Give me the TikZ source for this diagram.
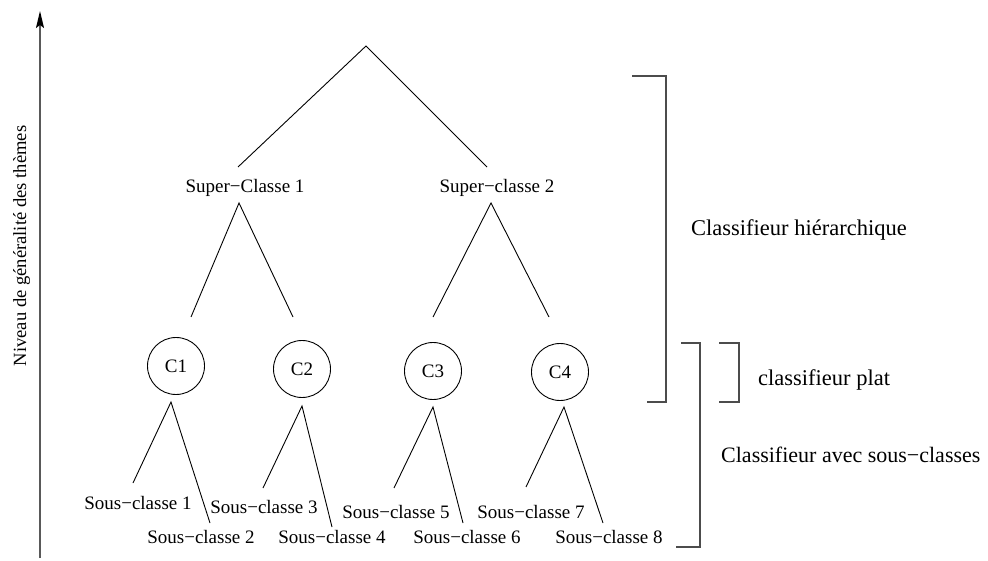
\documentclass[tikz,border=0pt]{standalone}
\usepackage{fontspec}
\setmainfont{Liberation Serif}
\usetikzlibrary{arrows.meta}
\begin{document}
\begin{tikzpicture}[x=1pt,y=-1pt,
  treeline/.style={line width=0.9pt,black},
  bracket/.style={line width=1.1pt,black!70},
  lab/.style={inner sep=0pt,anchor=base,font=\fontsize{19}{22}\selectfont},
  rlab/.style={inner sep=0pt,anchor=base west,font=\fontsize{22.5}{26}\selectfont},
  cls/.style={circle,draw,line width=0.9pt,minimum size=57pt,inner sep=0pt,font=\fontsize{19}{22}\selectfont}]
\useasboundingbox (0,0) rectangle (988,561);
% axis
\coordinate (ax0) at (40,558);
\coordinate (ax1) at (40,11);
\draw[line width=1.5pt,black!65,-{Stealth[length=17pt,width=8pt,inset=3pt,black]}] (ax0) -- (ax1);
\node[inner sep=0pt,rotate=90,anchor=base,font=\fontsize{18.6}{22}\selectfont] (axlab) at (26,246) {Niveau de généralité des thèmes};
% root
\coordinate (root) at (366,46);
\coordinate (r1) at (238,167);
\coordinate (r2) at (487,167);
\draw[treeline] (r1) -- (root) -- (r2);
% super classes
\node[lab] (sc1) at (245,193) {Super−Classe 1};
\node[lab] (sc2) at (497,193) {Super−classe 2};
\coordinate (a1) at (239,203);
\coordinate (a2) at (491,203);
\coordinate (b1) at (191,317);
\coordinate (b2) at (293,317);
\coordinate (b3) at (433,317);
\coordinate (b4) at (549,317);
\draw[treeline] (b1) -- (a1) -- (b2);
\draw[treeline] (b3) -- (a2) -- (b4);
% classes
\node[cls] (c1) at (176,366) {C1};
\node[cls] (c2) at (302,369) {C2};
\node[cls] (c3) at (433,371) {C3};
\node[cls] (c4) at (560,372) {C4};
% sub-trees
\coordinate (p1) at (171,402);
\coordinate (p2) at (302,406);
\coordinate (p3) at (433,407);
\coordinate (p4) at (564,407);
\coordinate (l1) at (133,483);
\coordinate (m1) at (210,523);
\coordinate (l2) at (263,488);
\coordinate (m2) at (332,527);
\coordinate (l3) at (394,488);
\coordinate (m3) at (463,523);
\coordinate (l4) at (526,487);
\coordinate (m4) at (603,523);
\draw[treeline] (l1) -- (p1) -- (m1);
\draw[treeline] (l2) -- (p2) -- (m2);
\draw[treeline] (l3) -- (p3) -- (m3);
\draw[treeline] (l4) -- (p4) -- (m4);
% sub-classes
\node[lab] (s1) at (138,509) {Sous−classe 1};
\node[lab] (s2) at (201,543) {Sous−classe 2};
\node[lab] (s3) at (264,513) {Sous−classe 3};
\node[lab] (s4) at (332,543) {Sous−classe 4};
\node[lab] (s5) at (396,518) {Sous−classe 5};
\node[lab] (s6) at (467,543) {Sous−classe 6};
\node[lab] (s7) at (531,518) {Sous−classe 7};
\node[lab] (s8) at (609,543) {Sous−classe 8};
% brackets
\coordinate (h0) at (632,76);
\coordinate (h1) at (666,76);
\coordinate (h2) at (666,402);
\coordinate (h3) at (647,402);
\draw[bracket] (h0) -- (h1) -- (h2) -- (h3);
\coordinate (v0) at (681,343);
\coordinate (v1) at (700,343);
\coordinate (v2) at (700,547);
\coordinate (v3) at (676,547);
\draw[bracket] (v0) -- (v1) -- (v2) -- (v3);
\coordinate (f0) at (719,343);
\coordinate (f1) at (739,343);
\coordinate (f2) at (739,402);
\coordinate (f3) at (719,402);
\draw[bracket] (f0) -- (f1) -- (f2) -- (f3);
\node[rlab] (th) at (691,236) {Classifieur hiérarchique};
\node[rlab] (tp) at (758,385) {classifieur plat};
\node[rlab,font=\fontsize{22}{26}\selectfont] (ts) at (721,462) {Classifieur avec sous−classes};
\end{tikzpicture}
\end{document}
